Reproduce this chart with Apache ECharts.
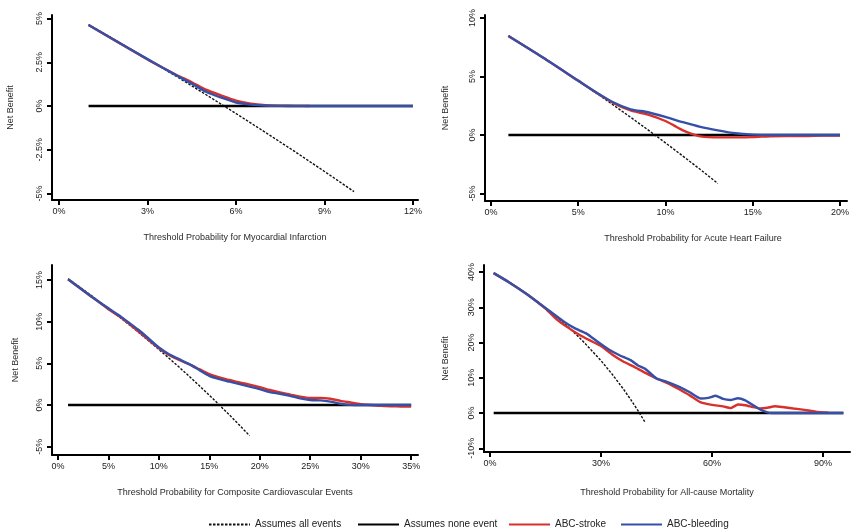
<!DOCTYPE html>
<html>
<head>
<meta charset="utf-8">
<script src="https://cdn.jsdelivr.net/npm/echarts@6/dist/echarts.min.js"></script>
<style>
  html, body { margin: 0; padding: 0; background: #fff; }
  #chart { width: 852px; height: 529px; }
</style>
</head>
<body>
<div id="chart"></div>
<script>
// ---- Net benefit data (threshold %, net benefit %) ----
// Myocardial infarction
const miAllX = [1, 2, 3, 4, 5, 6, 7, 8, 9, 10];
const miAllY = [4.65, 3.67, 2.68, 1.67, 0.63, -0.43, -1.51, -2.61, -3.74, -4.89];
const miNoneX = [1, 12];
const miNoneY = [0, 0];
const miStrokeX = [1, 3, 3.5, 4, 4.5, 5, 5.5, 6, 6.5, 7, 7.5, 8, 8.5];
const miStrokeY = [4.63, 2.66, 2.2, 1.76, 1.36, 0.92, 0.6, 0.31, 0.14, 0.05, 0.02, 0.01, 0];
const miBleedX = [1, 3, 3.5, 4, 4.5, 5, 5.5, 6, 6.5, 7, 7.5, 8, 9, 10, 11, 12];
const miBleedY = [4.63, 2.68, 2.2, 1.73, 1.28, 0.8, 0.48, 0.2, 0.08, 0.03, 0.01, 0, 0, 0, 0, 0];

// Acute heart failure
const ahfAllX = [1, 2, 3, 4, 5, 6, 7, 8, 9, 10, 11, 12, 13];
const ahfAllY = [8.48, 7.55, 6.6, 5.63, 4.63, 3.62, 2.58, 1.52, 0.44, -0.67, -1.8, -2.95, -4.14];
const ahfNoneX = [1, 20];
const ahfNoneY = [0, 0];
const ahfStrokeX = [1, 3, 5, 6, 7, 8, 9, 10, 10.5, 11, 11.5, 12, 13, 14, 15, 16, 17, 18, 19, 20];
const ahfStrokeY = [8.46, 6.6, 4.63, 3.65, 2.75, 2.1, 1.75, 1.2, 0.8, 0.4, 0.1, -0.12, -0.2, -0.2, -0.18, -0.1, -0.08, -0.08, -0.05, -0.05];
const ahfBleedX = [1, 3, 5, 6, 7, 8, 9, 10, 11, 12, 13, 14, 15, 16, 17, 18, 19, 20];
const ahfBleedY = [8.46, 6.6, 4.65, 3.68, 2.8, 2.2, 1.95, 1.55, 1.1, 0.7, 0.4, 0.15, 0.03, 0, 0, 0, 0, 0];

// Composite cardiovascular events
const cvAllX = [1, 2, 3, 4, 5, 6, 7, 8, 9, 10, 11, 12, 13, 14, 15, 16, 17, 18, 19];
const cvAllY = [15.15, 14.29, 13.4, 12.5, 11.58, 10.64, 9.68, 8.7, 7.69, 6.67, 5.62, 4.55, 3.45, 2.33, 1.18, 0, -1.2, -2.44, -3.7];
const cvNoneX = [1, 35];
const cvNoneY = [0, 0];
const cvStrokeX = [1, 3, 5, 6, 7, 8, 9, 10, 11, 12, 13, 14, 15, 16, 17, 18, 19, 20, 21, 22, 23, 24, 25, 26, 27, 28, 29, 30, 31, 32, 33, 34, 35];
const cvStrokeY = [15.1, 13.3, 11.5, 10.7, 9.8, 8.8, 7.8, 6.8, 6.0, 5.4, 4.9, 4.3, 3.7, 3.3, 3.0, 2.7, 2.45, 2.15, 1.8, 1.5, 1.25, 1.0, 0.85, 0.85, 0.75, 0.5, 0.3, 0.1, 0, -0.1, -0.15, -0.18, -0.2];
const cvBleedX = [1, 3, 5, 6, 7, 8, 9, 10, 11, 12, 13, 14, 15, 16, 17, 18, 19, 20, 21, 22, 23, 24, 25, 26, 27, 28, 29, 30, 31, 32, 33, 34, 35];
const cvBleedY = [15.1, 13.3, 11.6, 10.8, 9.9, 9.0, 7.95, 6.9, 6.1, 5.5, 4.9, 4.2, 3.5, 3.1, 2.8, 2.5, 2.2, 1.9, 1.55, 1.35, 1.1, 0.8, 0.6, 0.55, 0.4, 0.15, 0.02, 0, 0, 0, 0, 0, 0];

// All-cause mortality
const acmAllX = [1, 5, 10, 15, 20, 25, 30, 33, 36, 38, 40, 42];
const acmAllY = [39.8, 37.26, 33.78, 29.88, 25.5, 20.53, 14.86, 11.04, 6.88, 3.87, 0.67, -2.76];
const acmNoneX = [1, 95.5];
const acmNoneY = [0, 0];
const acmStrokeX = [1, 5, 10, 15, 18, 21, 24, 27, 30, 33, 36, 39, 42, 45, 48, 51, 54, 57, 60, 63, 65, 67, 69, 71, 73, 75, 77, 79, 82, 85, 88, 91.5];
const acmStrokeY = [39.7, 37.2, 33.7, 29.6, 26.6, 24.3, 22.3, 20.6, 19.0, 16.6, 14.6, 13.1, 11.4, 9.8, 8.5, 6.8, 5.0, 3.0, 2.3, 1.9, 1.4, 2.4, 2.2, 1.7, 1.3, 1.5, 1.9, 1.7, 1.3, 0.9, 0.4, 0.1];
const acmBleedX = [1, 5, 10, 15, 20, 23, 26, 29, 32, 35, 38, 40, 42, 45, 48, 51, 54, 57, 59, 61, 63, 65, 67, 69, 71, 73, 75, 76, 80, 85, 90, 95.5];
const acmBleedY = [39.7, 37.2, 33.7, 29.8, 25.9, 24.0, 22.6, 20.3, 18.1, 16.4, 15.0, 13.5, 12.5, 9.8, 8.8, 7.5, 5.9, 4.1, 4.3, 4.9, 4.0, 3.7, 4.2, 3.6, 2.3, 1.0, 0.2, 0, 0, 0, 0, 0];

// Tick labels
const miXTicks = [0, 3, 6, 9, 12];
const miYTicks = [-5, -2.5, 0, 2.5, 5];
const ahfXTicks = [0, 5, 10, 15, 20];
const ahfYTicks = [-5, 0, 5, 10];
const cvXTicks = [0, 5, 10, 15, 20, 25, 30, 35];
const cvYTicks = [-5, 0, 5, 10, 15];
const acmXTicks = [0, 30, 60, 90];
const acmYTicks = [-10, 0, 10, 20, 30, 40];

const xTitles = [
  'Threshold Probability for Myocardial Infarction',
  'Threshold Probability for Acute Heart Failure',
  'Threshold Probability for Composite Cardiovascular Events',
  'Threshold Probability for All-cause Mortality'
];
const seriesNames = ['Assumes all events', 'Assumes none event', 'ABC-stroke', 'ABC-bleeding'];

// ---- Layout and styling ----
const FONT = '"Liberation Sans", Arial, Helvetica, sans-serif';
const RED = '#d8312c';
const BLUE = '#3550a6';

const zip = (xs, ys) => xs.map((x, i) => [x, ys[i]]);

const panels = [
  { grid: { left: 52, top: 15, width: 366, height: 185 }, xr: [-0.24, 12.17], yr: [-5.37, 5.2],
    xt: miXTicks, yt: miYTicks, yGap: 37, xGap: 33, xShift: 0, smooth: 0.25,
    lines: [[miAllX, miAllY], [miNoneX, miNoneY], [miStrokeX, miStrokeY], [miBleedX, miBleedY]] },
  { grid: { left: 485, top: 15, width: 365, height: 186 }, xr: [-0.34, 20.4], yr: [-5.64, 10.26],
    xt: ahfXTicks, yt: ahfYTicks, yGap: 35, xGap: 33, xShift: 54, smooth: 0.25,
    lines: [[ahfAllX, ahfAllY], [ahfNoneX, ahfNoneY], [ahfStrokeX, ahfStrokeY], [ahfBleedX, ahfBleedY]] },
  { grid: { left: 52, top: 265, width: 366, height: 190 }, xr: [-0.59, 35.68], yr: [-6.0, 16.8],
    xt: cvXTicks, yt: cvYTicks, yGap: 32, xGap: 33, xShift: 0, smooth: 0.25,
    lines: [[cvAllX, cvAllY], [cvNoneX, cvNoneY], [cvStrokeX, cvStrokeY], [cvBleedX, cvBleedY]] },
  { grid: { left: 484, top: 265, width: 366, height: 187 }, xr: [-1.62, 97.3], yr: [-11.06, 42.0],
    xt: acmXTicks, yt: acmYTicks, yGap: 34, xGap: 36, xShift: 0, smooth: 0.15,
    lines: [[acmAllX, acmAllY], [acmNoneX, acmNoneY], [acmStrokeX, acmStrokeY], [acmBleedX, acmBleedY]] }
];

const axisLineStyle = { show: true, onZero: false, lineStyle: { color: '#000', width: 2 } };
const tickStyle = { show: true, length: 5, lineStyle: { color: '#000', width: 2 } };
const labelText = { fontFamily: FONT, fontSize: 9, color: '#1a1a1a' };

const lineStyles = [
  { color: '#111', width: 1.4, type: [2.5, 1.5] },
  { color: '#000', width: 2.4, type: 'solid' },
  { color: RED, width: 2.4, type: 'solid' },
  { color: BLUE, width: 2.4, type: 'solid' }
];

const grids = [], xAxes = [], yAxes = [], series = [];

panels.forEach((p, i) => {
  grids.push(Object.assign({ containLabel: false }, p.grid));
  xAxes.push({
    type: 'value', gridIndex: i, min: p.xr[0], max: p.xr[1],
    axisLine: axisLineStyle,
    axisTick: Object.assign({ customValues: p.xt }, tickStyle),
    axisLabel: Object.assign({ customValues: p.xt, margin: 7, formatter: v => v + '%' }, labelText),
    splitLine: { show: false },
    name: xTitles[i], nameLocation: 'middle', nameGap: p.xGap,
    nameTextStyle: { fontFamily: FONT, fontSize: 9, color: '#2a2a2a', padding: [0, 0, 0, p.xShift] }
  });
  yAxes.push({
    type: 'value', gridIndex: i, min: p.yr[0], max: p.yr[1],
    axisLine: axisLineStyle,
    axisTick: Object.assign({ customValues: p.yt }, tickStyle),
    axisLabel: Object.assign({ customValues: p.yt, margin: 8, rotate: 90, formatter: v => v + '%' }, labelText),
    splitLine: { show: false },
    name: 'Net Benefit', nameLocation: 'middle', nameGap: p.yGap,
    nameTextStyle: { fontFamily: FONT, fontSize: 9, color: '#2a2a2a' }
  });

  p.lines.forEach((ln, k) => {
    series.push({
      type: 'line', name: seriesNames[k], xAxisIndex: i, yAxisIndex: i,
      data: zip(ln[0], ln[1]), symbol: 'none', showSymbol: false,
      smooth: k < 2 ? false : p.smooth,
      color: lineStyles[k].color, lineStyle: lineStyles[k], z: 2 + k
    });
  });
});

// One legend per entry so each sits at its own spot along the bottom row
const legendPos = [203, 352, 503, 615];
const legends = seriesNames.map((n, k) => ({
  data: [n], left: legendPos[k], top: 514, itemWidth: 41, itemHeight: 14, itemGap: 0,
  itemStyle: { opacity: 0 },
  textStyle: { fontFamily: FONT, fontSize: 10, color: '#222' }, selectedMode: false
}));

const chart = echarts.init(document.getElementById('chart'), null, { renderer: 'canvas' });
chart.setOption({
  animation: false,
  backgroundColor: '#fff',
  grid: grids, xAxis: xAxes, yAxis: yAxes, series: series, legend: legends
});
</script>
</body>
</html>
